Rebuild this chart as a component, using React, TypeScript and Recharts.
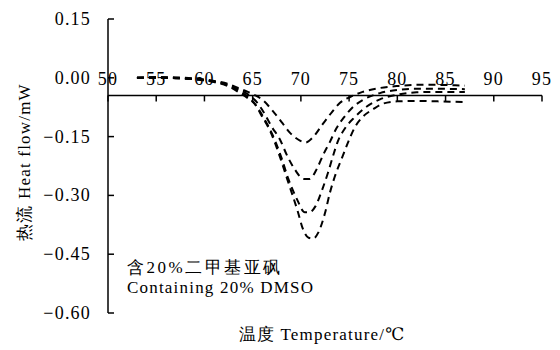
import React from "react";
import { LineChart, Line, XAxis, YAxis, ReferenceLine } from "recharts";

// ---- data ----
const xTicks = [50, 55, 60, 65, 70, 75, 80, 85, 90, 95];
const yTicks = [0.15, 0, -0.15, -0.3, -0.45, -0.6];
const xAxisCross = -0.045;

const temps1 = [53, 55, 57, 59, 61, 62.5, 63.5, 64.5, 65.2, 66.1, 67.0, 68.0, 68.9, 69.9, 70.5, 71.2, 72.3, 73.2, 74.0, 75.1, 76.4, 78.2, 80, 82, 84, 86, 87];
const flow1 = [0.0, 0.002, 0.001, -0.002, -0.008, -0.016, -0.026, -0.036, -0.044, -0.058, -0.082, -0.113, -0.141, -0.16, -0.165, -0.153, -0.117, -0.088, -0.065, -0.049, -0.036, -0.026, -0.021, -0.018, -0.018, -0.019, -0.02];

const temps2 = [53, 55, 57, 59, 61, 62.5, 63.5, 64.5, 65.2, 66.0, 67.0, 67.8, 68.6, 69.4, 70.3, 70.9, 71.7, 72.3, 73.0, 73.7, 74.4, 75.3, 76.4, 78.2, 80, 82, 84, 87];
const flow2 = [0.0, 0.001, 0.0, -0.003, -0.009, -0.018, -0.029, -0.042, -0.056, -0.082, -0.126, -0.156, -0.2, -0.235, -0.258, -0.258, -0.23, -0.197, -0.164, -0.128, -0.103, -0.077, -0.057, -0.039, -0.031, -0.028, -0.028, -0.029];

const temps3 = [53, 55, 57, 59, 61, 62.5, 63.5, 64.5, 65.2, 66.1, 67.3, 68.0, 68.7, 69.6, 70.4, 70.9, 71.5, 72.2, 72.8, 73.3, 73.8, 74.6, 75.6, 76.8, 78.2, 80, 82, 84, 87];
const flow3 = [0.0, 0.0, -0.001, -0.004, -0.01, -0.02, -0.032, -0.048, -0.066, -0.1, -0.159, -0.205, -0.258, -0.31, -0.343, -0.343, -0.328, -0.286, -0.243, -0.202, -0.164, -0.128, -0.1, -0.074, -0.055, -0.043, -0.037, -0.036, -0.036];

const temps4 = [53, 55, 57, 59, 61, 62.5, 63.5, 64.5, 65.2, 66.0, 66.8, 67.8, 68.6, 69.7, 70.2, 70.8, 71.3, 71.8, 72.5, 73.0, 73.5, 74.25, 74.9, 75.6, 76.4, 77.5, 78.5, 80, 82, 84, 87];
const flow4 = [0.0, 0.0, -0.001, -0.004, -0.011, -0.022, -0.036, -0.052, -0.066, -0.1, -0.135, -0.2, -0.26, -0.343, -0.385, -0.408, -0.41, -0.395, -0.345, -0.294, -0.253, -0.205, -0.164, -0.126, -0.1, -0.08, -0.066, -0.06, -0.059, -0.06, -0.062];

const yAxisTitle = "热流 Heat flow/mW";
const xAxisTitle = "温度 Temperature/℃";
const noteLine1 = "含20%二甲基亚砜";
const noteLine2 = "Containing 20% DMSO";

const series = [
  { t: temps1, v: flow1 },
  { t: temps2, v: flow2 },
  { t: temps3, v: flow3 },
  { t: temps4, v: flow4 },
].map((s) => s.t.map((t, i) => ({ t, v: s.v[i] })));

// ---- layout ----
const W = 552;
const H = 342;
const M = { top: 11, right: 18, left: 0, bottom: 0 };
const Y_AXIS_W = 100;
const X_AXIS_H = 37;
const PLOT_TOP = M.top;
const PLOT_H = H - M.top - M.bottom - X_AXIS_H;
const Y_MIN = -0.6;
const Y_MAX = 0.15;
const PLOT_LEFT = M.left + Y_AXIS_W;

const FONT = "'Liberation Serif', 'DejaVu Serif', serif";
const txt = { fontFamily: FONT };

const axisY = PLOT_TOP + ((Y_MAX - xAxisCross) / (Y_MAX - Y_MIN)) * PLOT_H;

const fmtY = (v: number) => {
  const s = Math.abs(v).toFixed(2);
  return v < 0 ? "\u2212" + s : s;
};

const XTick = (props: any) => {
  const { x, payload } = props;
  return (
    <g>
      <line x1={x} x2={x} y1={axisY} y2={axisY + 6} stroke="#000" strokeWidth={1.5} />
      <text x={x} y={axisY - 10} textAnchor="middle" style={txt} fontSize={18} letterSpacing={1.2} fill="#000">
        {payload.value}
      </text>
    </g>
  );
};

const YTick = (props: any) => {
  const { y, payload } = props;
  return (
    <g>
      <line x1={PLOT_LEFT} x2={PLOT_LEFT + 6} y1={y} y2={y} stroke="#000" strokeWidth={1.5} />
      <text x={83} y={y + 6} textAnchor="end" style={txt} fontSize={18} letterSpacing={1.2} fill="#000">
        {fmtY(payload.value)}
      </text>
    </g>
  );
};

export default function App() {
  return (
    <div style={{ position: "relative", width: W, height: H, fontFamily: FONT }}>
      <LineChart width={W} height={H} margin={M}>
        <XAxis
          type="number"
          dataKey="t"
          domain={[50, 95]}
          ticks={xTicks}
          interval={0}
          axisLine={false}
          tickLine={false}
          tick={<XTick />}
          height={X_AXIS_H}
          allowDataOverflow
        />
        <YAxis
          type="number"
          dataKey="v"
          domain={[Y_MIN, Y_MAX]}
          ticks={yTicks}
          interval={0}
          width={Y_AXIS_W}
          axisLine={{ stroke: "#000", strokeWidth: 1.5 }}
          tickLine={false}
          tick={<YTick />}
          allowDataOverflow
        />
        <ReferenceLine y={xAxisCross} stroke="#000" strokeWidth={1.5} ifOverflow="visible" />
        {series.map((d, i) => (
          <Line
            key={i}
            data={d}
            dataKey="v"
            type="monotone"
            stroke="#000"
            strokeWidth={2}
            strokeDasharray="7 5"
            dot={false}
            activeDot={false}
            isAnimationActive={false}
          />
        ))}
      </LineChart>
      <svg
        width={W}
        height={H}
        style={{ position: "absolute", left: 0, top: 0, pointerEvents: "none" }}
      >
        <text
          x={16}
          y={154}
          transform="rotate(-90 16 154)"
          textAnchor="middle"
          dominantBaseline="central"
          style={txt}
          fontSize={17}
          letterSpacing={1.2}
          fill="#000"
        >
          {yAxisTitle}
        </text>
        <text x={314} y={332} textAnchor="middle" style={txt} fontSize={17} letterSpacing={1.2} fill="#000">
          {xAxisTitle}
        </text>
        <text x={119} y={265} style={txt} fontSize={17} letterSpacing={2.5} fill="#000">
          {noteLine1}
        </text>
        <text x={119} y={285} style={txt} fontSize={17} letterSpacing={1.2} fill="#000">
          {noteLine2}
        </text>
      </svg>
    </div>
  );
}
